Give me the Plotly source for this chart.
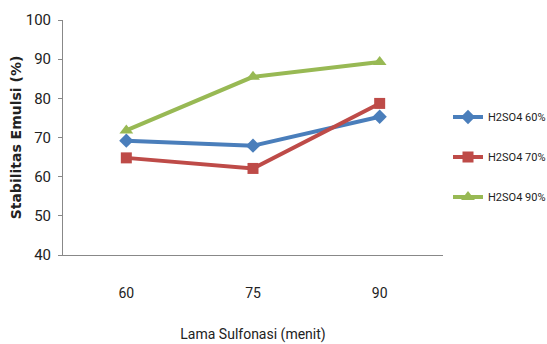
import plotly.graph_objects as go

# Sulfonation time (minutes) and emulsion stability (%) per H2SO4 concentration
waktu = ["60", "75", "90"]
h2so4_60 = [69.2, 67.9, 75.3]
h2so4_70 = [64.8, 62.1, 78.7]
h2so4_90 = [71.8, 85.5, 89.3]

W, H = 547, 344

series = [
    ("H2SO4 60%", h2so4_60, "#4a7ebb", "diamond", 11, "legend", 117),
    ("H2SO4 70%", h2so4_70, "#be4b48", "square", 11, "legend2", 157),
    ("H2SO4 90%", h2so4_90, "#98b954", "triangle-up", 12, "legend3", 197),
]

txt_font = "Roboto, Open Sans, sans-serif"

fig = go.Figure()
legends = {}
for name, vals, color, symbol, size, leg, ypx in series:
    fig.add_trace(go.Scatter(
        x=waktu, y=vals, name=name, mode="lines+markers",
        line=dict(color=color, width=4),
        marker=dict(symbol=symbol, size=size, color=color),
        legend=leg,
    ))
    # one legend box per series, placed in container coordinates
    legends[leg] = dict(
        xref="container", yref="container",
        x=448 / W, y=(H - ypx) / H, xanchor="left", yanchor="middle",
        font=dict(family=txt_font, size=11, color="#222"),
        itemwidth=30, bgcolor="rgba(0,0,0,0)",
    )

fig.update_layout(
    width=W, height=H,
    margin=dict(l=63, r=104, t=20, b=89, autoexpand=False),
    paper_bgcolor="white", plot_bgcolor="white",
    showlegend=True,
    **legends,
    xaxis=dict(
        type="category", range=[-0.5, 2.5], automargin=False,
        showline=True, linecolor="#888", linewidth=1,
        showgrid=False, ticks="", ticklabelstandoff=25,
        tickfont=dict(family=txt_font, size=14, color="#222"),
        title=dict(text="Lama Sulfonasi (menit)", standoff=29,
                   font=dict(family=txt_font, size=14, color="#222")),
    ),
    yaxis=dict(
        range=[40, 100], dtick=10, automargin=False,
        showline=True, linecolor="#888", linewidth=1,
        showgrid=False, ticks="outside", ticklen=4, tickcolor="#888",
        ticklabelstandoff=4,
        tickfont=dict(family=txt_font, size=15, color="#222"),
        title=dict(text="<b>Stabilitas Emulsi (%)</b>", standoff=0,
                   font=dict(family="DejaVu Sans, Verdana, sans-serif", size=14, color="#222")),
    ),
)

fig.write_html("out.html")
